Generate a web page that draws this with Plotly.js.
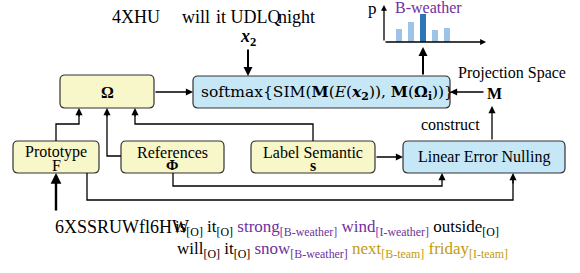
<!DOCTYPE html>
<html><head><meta charset="utf-8">
<script src="https://cdn.plot.ly/plotly-3.0.1.min.js"></script>
<style>html,body{margin:0;padding:0;background:#fff}#chart{width:580px;height:273px}</style>
</head><body><div id="chart"></div>
<script>
// ---- data ----
const barCategories = ['c1', 'c2', 'B-weather', 'c4', 'c5'];
const barValues = [0.13, 0.20, 0.28, 0.12, 0.14];
const barColors = ['#9dc3e6', '#9dc3e6', '#2e75b6', '#9dc3e6', '#9dc3e6'];
const boxLabels = ['Ω', 'Prototype', 'References', 'Label Semantic', 'Linear Error Nulling'];
const boxSymbols = ['F', 'Φ', 's'];
const topSentence = ['4XHU', 'will', 'it UDLQ', 'night'];
const purple = '#7030a0', gold = '#c49a0a';

const FONT = '"Liberation Serif", "Times New Roman", serif';
const MATH = '"DejaVu Serif", serif';
const YEL = '#f7f7c9', BLU = '#c6e7f6', EDGE = '#333333';

function rr(x0, y0, x1, y1, r) {
  return `M${x0 + r},${y0} L${x1 - r},${y0} Q${x1},${y0} ${x1},${y0 + r} L${x1},${y1 - r} Q${x1},${y1} ${x1 - r},${y1} L${x0 + r},${y1} Q${x0},${y1} ${x0},${y1 - r} L${x0},${y0 + r} Q${x0},${y0} ${x0 + r},${y0} Z`;
}
function box(x0, y0, x1, y1, fill) {
  return {type: 'path', xref: 'x', yref: 'y', path: rr(x0, y0, x1, y1, 5), fillcolor: fill, line: {color: EDGE, width: 1.2}, layer: 'above'};
}
function seg(pts, w) {
  let p = 'M' + pts.map(q => q[0] + ',' + q[1]).join(' L');
  return {type: 'path', xref: 'x', yref: 'y', path: p, line: {color: '#000', width: w || 1.3}, fillcolor: 'rgba(0,0,0,0)'};
}
function arrow(tx, ty, hx, hy, w, size) {
  return {x: hx, y: hy, ax: tx, ay: ty, xref: 'x', yref: 'y', axref: 'x', ayref: 'y', showarrow: true,
    arrowhead: 2, arrowsize: size || 1.1, arrowwidth: w || 1.3, arrowcolor: '#000', text: '', standoff: 0};
}
function txt(x, y, s, size, opts) {
  return Object.assign({x: x, y: y, xref: 'x', yref: 'y', text: s, showarrow: false,
    font: {family: FONT, size: size || 16, color: '#000'}, xanchor: 'center', yanchor: 'middle'}, opts || {});
}

const shapes = [
  box(60, 75, 154, 108, YEL),
  box(193, 76, 450, 108, BLU),
  box(13, 141, 99, 173, YEL),
  box(121, 141, 224, 173, YEL),
  box(251, 141, 375, 173, YEL),
  box(403, 141, 565, 173, BLU),
  seg([[56, 141], [56, 124], [79, 124], [79, 112]]),
  seg([[121, 156], [107, 156], [107, 112]]),
  seg([[313, 141], [313, 124], [135, 124], [135, 112]]),
  seg([[87, 173], [87, 200], [513, 200], [513, 177]]),
  seg([[173, 173], [173, 186], [442, 186], [442, 177]]),
];

const annotations = [
  // arrows
  arrow(79, 118, 79, 108), arrow(107, 118, 107, 108), arrow(135, 118, 135, 108),
  arrow(513, 185, 513, 173), arrow(442, 180, 442, 173),
  arrow(154, 92, 193, 92),
  arrow(375, 157, 403, 157),
  arrow(248, 48, 248, 76, 2, 0.9),
  arrow(423, 76, 423, 47, 2, 0.9),
  arrow(485, 92, 450, 92),
  arrow(492, 141, 492, 106),
  arrow(56, 212, 56, 173, 2.4, 0.9),
  // bar axes
  arrow(384, 42, 486, 42, 1.3, 0.9),
  arrow(384, 42, 384, 5, 1.3, 0.9),
  // texts
  txt(107, 92, '<b>' + boxLabels[0] + '</b>', 16),
  txt(199, 92, 'softmax{SIM(<b>M</b>(<i>E</i>(<b><i>x</i><sub>2</sub></b>)), <b>M</b>(<b>Ω<sub>i</sub></b>))}', 15.5,
      {xanchor: 'left', font: {family: MATH, size: 15.5, color: '#000'}}),
  txt(56, 152, boxLabels[1], 16), txt(56, 165, boxSymbols[0], 16),
  txt(172, 152, boxLabels[2], 16), txt(172, 165, '<b>' + boxSymbols[1] + '</b>', 15),
  txt(313, 152, boxLabels[3], 16), txt(313, 165, '<b>' + boxSymbols[2] + '</b>', 16),
  txt(484, 157, boxLabels[4], 16),
  txt(512, 73, 'Projection Space', 16),
  txt(494, 93, '<b>M</b>', 16),
  txt(450, 124, 'construct', 16),
  txt(248, 37, '<b><i>x</i><sub>2</sub></b>', 18),
  txt(372, 8, 'p', 17),
  txt(428, 7, barCategories[2], 16, {font: {family: FONT, size: 16, color: purple}}),
  txt(110, 17, topSentence[0], 18, {xanchor: 'left'}),
  txt(180, 17, topSentence[1], 18, {xanchor: 'left'}),
  txt(214, 17, topSentence[2], 18, {xanchor: 'left'}),
  txt(276, 17, topSentence[3], 18, {xanchor: 'left'}),
  txt(53, 227, '6XSSRUWfl6HW', 18, {xanchor: 'left'}),
  txt(173, 228, 'is<sub>[O]</sub> it<sub>[O]</sub> <span style="color:' + purple + '">strong<sub>[B-weather]</sub> wind<sub>[I-weather]</sub></span> outside<sub>[O]</sub>', 17, {xanchor: 'left'}),
  txt(175, 250, 'will<sub>[O]</sub> it<sub>[O]</sub> <span style="color:' + purple + '">snow<sub>[B-weather]</sub></span> <span style="color:' + gold + '">next<sub>[B-team]</sub> friday<sub>[I-team]</sub></span>', 17, {xanchor: 'left'}),
];

const traces = [
  {x: [], y: [], type: 'scatter', mode: 'none', xaxis: 'x', yaxis: 'y', hoverinfo: 'skip', showlegend: false},
  {x: barCategories, y: barValues, type: 'bar', xaxis: 'x2', yaxis: 'y2', width: 0.5,
    marker: {color: barColors}, hoverinfo: 'skip', showlegend: false},
];

const layout = {
  width: 580, height: 273, margin: {l: 0, r: 0, t: 0, b: 0},
  paper_bgcolor: '#fff', plot_bgcolor: 'rgba(0,0,0,0)', showlegend: false,
  xaxis: {range: [0, 580], visible: false, domain: [0, 1]},
  yaxis: {range: [273, 0], visible: false, domain: [0, 1]},
  xaxis2: {range: [-1.25, 7.0], visible: false, domain: [384 / 580, 483 / 580], anchor: 'y2'},
  yaxis2: {range: [0, 0.35], visible: false, domain: [1 - 42 / 273, 1 - 7 / 273], anchor: 'x2'},
  shapes: shapes, annotations: annotations,
};
Plotly.newPlot('chart', traces, layout, {displayModeBar: false, staticPlot: true});
</script></body></html>
